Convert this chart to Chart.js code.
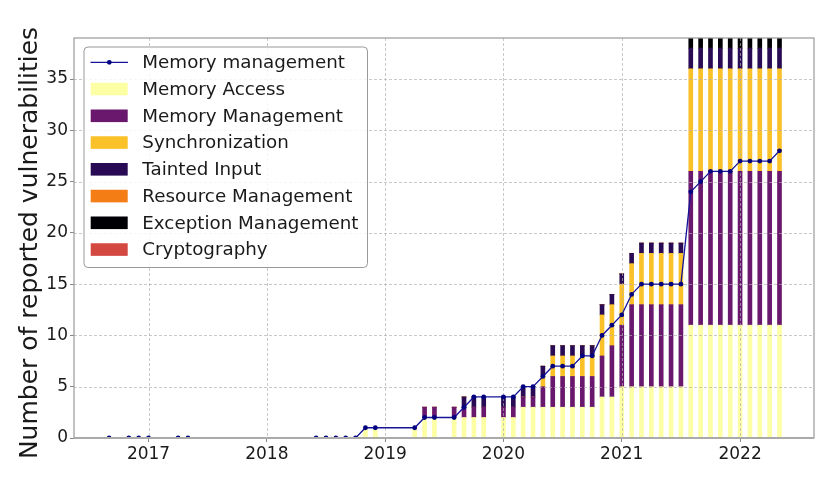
<!DOCTYPE html>
<html><head><meta charset="utf-8">
<script src="https://cdn.jsdelivr.net/npm/chart.js@4.4.1/dist/chart.umd.min.js"></script>
<style>html,body{margin:0;padding:0;background:#fff;}canvas{display:block;}</style>
</head><body>
<canvas id="c" width="830" height="494"></canvas>
<script>
// ---- data ----
const months = ['2016-09','2016-11','2016-12','2017-01','2017-04','2017-05',
  '2018-06','2018-07','2018-08','2018-09','2018-10','2018-11','2018-12',
  '2019-04','2019-05','2019-06','2019-08','2019-09','2019-10','2019-11',
  '2020-01','2020-02','2020-03','2020-04','2020-05','2020-06','2020-07','2020-08','2020-09','2020-10','2020-11','2020-12',
  '2021-01','2021-02','2021-03','2021-04','2021-05','2021-06','2021-07','2021-08','2021-09','2021-10','2021-11','2021-12',
  '2022-01','2022-02','2022-03','2022-04','2022-05'];
const memoryManagementLine = [0,0,0,0,0,0, 0,0,0,0,0,1,1, 1,2,2,2,3,4,4, 4,4,5,5,6,7,7,7,8,8,10,11, 12,14,15,15,15,15,15,24,25,26,26,26, 27,27,27,27,28];
const memoryAccess        = [0,0,0,0,0,0, 0,0,0,0,0,1,1, 1,2,2,2,2,2,2, 2,2,3,3,3,3,3,3,3,3,4,4, 5,5,5,5,5,5,5,11,11,11,11,11, 11,11,11,11,11];
const memoryManagement    = [0,0,0,0,0,0, 0,0,0,0,0,0,0, 0,1,1,1,1,1,1, 1,1,1,1,2,3,3,3,3,3,4,5, 6,8,8,8,8,8,8,15,15,15,15,15, 15,15,15,15,15];
const synchronization     = [0,0,0,0,0,0, 0,0,0,0,0,0,0, 0,0,0,0,0,0,0, 0,0,0,0,1,2,2,2,2,2,4,4, 4,4,5,5,5,5,5,10,10,10,10,10, 10,10,10,10,10];
const taintedInput        = [0,0,0,0,0,0, 0,0,0,0,0,0,0, 0,0,0,0,1,1,1, 1,1,1,1,1,1,1,1,1,1,1,1, 1,1,1,1,1,1,1,2,2,2,2,2, 2,2,2,2,2];
const resourceManagement  = months.map(() => 0);
const exceptionManagement = [0,0,0,0,0,0, 0,0,0,0,0,0,0, 0,0,0,0,0,0,0, 0,0,0,0,0,0,0,0,0,0,0,0, 0,0,0,0,0,0,0,1,1,1,1,1, 1,1,1,1,1];
const cryptography        = months.map(() => 0);
const xTickYears = [2017, 2018, 2019, 2020, 2021, 2022];
const yTickValues = [0, 5, 10, 15, 20, 25, 30, 35];
const yTitle = 'Number of reported vulnerabilities';
const lineLabel = 'Memory management';
const barLabels = ['Memory Access','Memory Management','Synchronization','Tainted Input','Resource Management','Exception Management','Cryptography'];
const barSeries = [memoryAccess, memoryManagement, synchronization, taintedInput, resourceManagement, exceptionManagement, cryptography];
const barColors = ['#fcffa4','#6a176e','#fac228','#280b54','#f57d15','#000004','#d44842'];

// ---- build ----
const xVals = months.map(m => { const [y, mo] = m.split('-').map(Number); return y + (mo - 1) / 12; });
const FONT = '"DejaVu Sans", "Liberation Sans", sans-serif';

const datasets = [{
  type: 'line', label: lineLabel, stack: 'line', order: 0,
  data: xVals.map((x, i) => ({x, y: memoryManagementLine[i]})),
  borderColor: '#14149a', backgroundColor: '#000080', borderWidth: 1.3,
  pointRadius: 2.4, pointBackgroundColor: '#000080', pointBorderWidth: 0, tension: 0
}];
barSeries.forEach((s, k) => datasets.push({
  type: 'bar', label: barLabels[k], stack: 'bars', order: 1,
  data: xVals.map((x, i) => ({x, y: s[i]})),
  backgroundColor: barColors[k], borderWidth: 0, barThickness: 4
}));

const decor = {
  id: 'decor',
  beforeDatasetDraw(chart, args) {
    if (args.meta.type !== 'line') return;
    const {ctx, chartArea: a, scales: {x, y}} = chart;
    ctx.save();
    ctx.strokeStyle = 'rgba(175,175,175,0.85)';
    ctx.lineWidth = 0.8;
    ctx.setLineDash([3, 2]);
    x.ticks.forEach(t => { const p = Math.round(x.getPixelForValue(t.value)) + 0.5;
      ctx.beginPath(); ctx.moveTo(p, a.top); ctx.lineTo(p, a.bottom); ctx.stroke(); });
    y.ticks.forEach(t => { const p = Math.round(y.getPixelForValue(t.value)) + 0.5;
      ctx.beginPath(); ctx.moveTo(a.left, p); ctx.lineTo(a.right, p); ctx.stroke(); });
    ctx.restore();
  },
  afterDraw(chart) {
    const {ctx, chartArea: a} = chart;
    ctx.save();
    // spines
    ctx.strokeStyle = '#999'; ctx.lineWidth = 1.2;
    ctx.strokeRect(a.left, a.top, a.right - a.left, a.bottom - a.top);
    ctx.strokeStyle = '#aaa'; ctx.lineWidth = 2;
    ctx.beginPath(); ctx.moveTo(a.left, a.bottom); ctx.lineTo(a.right, a.bottom); ctx.stroke();
    // y title
    ctx.save();
    ctx.translate(30, 243); ctx.rotate(-Math.PI / 2);
    ctx.font = '25px ' + FONT; ctx.fillStyle = '#1a1a1a';
    ctx.textAlign = 'center'; ctx.textBaseline = 'middle';
    ctx.fillText(yTitle, 0, 0);
    ctx.restore();
    // legend box
    const L = 84, T = 47, R = 367.5, B = 267.5, r = 4;
    ctx.beginPath();
    ctx.moveTo(L + r, T); ctx.lineTo(R - r, T); ctx.quadraticCurveTo(R, T, R, T + r);
    ctx.lineTo(R, B - r); ctx.quadraticCurveTo(R, B, R - r, B);
    ctx.lineTo(L + r, B); ctx.quadraticCurveTo(L, B, L, B - r);
    ctx.lineTo(L, T + r); ctx.quadraticCurveTo(L, T, L + r, T); ctx.closePath();
    ctx.fillStyle = 'rgba(255,255,255,0.85)'; ctx.fill();
    ctx.strokeStyle = '#999'; ctx.lineWidth = 1; ctx.stroke();
    const ds = chart.data.datasets;
    const rowH = 26.75, y0 = 62.3;
    ctx.font = '18.3px ' + FONT;
    ctx.textBaseline = 'middle'; ctx.textAlign = 'left';
    ds.forEach((d, i) => {
      const cy = y0 + i * rowH;
      if (d.type === 'line') {
        ctx.strokeStyle = d.borderColor; ctx.lineWidth = 1.3;
        ctx.beginPath(); ctx.moveTo(90.5, cy); ctx.lineTo(128, cy); ctx.stroke();
        ctx.fillStyle = d.pointBackgroundColor;
        ctx.beginPath(); ctx.arc(109.3, cy, 2.4, 0, Math.PI * 2); ctx.fill();
      } else {
        ctx.fillStyle = d.backgroundColor;
        ctx.fillRect(90.7, cy - 6.3, 37, 12.6);
      }
      ctx.fillStyle = '#1a1a1a';
      ctx.fillText(d.label, 142.3, cy + 1);
    });
    ctx.restore();
  }
};

new Chart(document.getElementById('c'), {
  type: 'bar',
  data: { datasets },
  options: {
    responsive: false, animation: false, devicePixelRatio: 1,
    layout: { padding: { top: 38, right: 16, left: 0, bottom: 0 } },
    plugins: { legend: { display: false }, tooltip: { enabled: false } },
    scales: {
      x: {
        type: 'linear', stacked: true, offset: false, min: 2016.37, max: 2022.625,
        afterBuildTicks: s => { s.ticks = xTickYears.map(v => ({value: v})); },
        afterFit: s => { s.height = 494 - 438; },
        grid: { offset: false, drawOnChartArea: false, drawTicks: true, tickLength: 4, color: '#888', lineWidth: 1 },
        border: { display: false },
        ticks: { font: { size: 17, family: FONT }, color: '#1a1a1a', padding: 2, maxRotation: 0, autoSkip: false,
                 callback: v => String(v) }
      },
      y: {
        stacked: true, min: 0, max: 39,
        afterBuildTicks: s => { s.ticks = yTickValues.map(v => ({value: v})); },
        afterFit: s => { s.width = 74; },
        grid: { offset: false, drawOnChartArea: false, drawTicks: true, tickLength: 4, color: '#888', lineWidth: 1 },
        border: { display: false },
        ticks: { font: { size: 17, family: FONT }, color: '#1a1a1a', padding: 2 },
        title: { display: false }
      }
    }
  },
  plugins: [decor]
});
</script>
</body></html>
